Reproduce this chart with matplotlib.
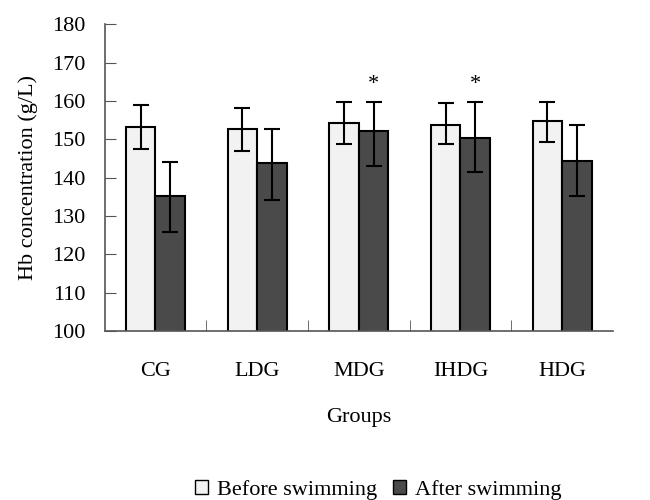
import matplotlib
matplotlib.use('Agg')
import matplotlib.pyplot as plt
import numpy as np

groups = ['CG', 'LDG', 'MDG', 'IHDG', 'HDG']
before_mean = [153.3, 152.6, 154.3, 153.7, 154.8]
before_err_low = [5.7, 5.6, 5.6, 5.0, 5.5]
before_err_high = [5.6, 5.7, 5.5, 5.7, 5.0]
after_mean = [135.3, 143.8, 152.2, 150.4, 144.3]
after_err_low = [9.4, 9.6, 9.1, 9.0, 9.0]
after_err_high = [8.9, 8.8, 7.6, 9.4, 9.4]
significant = [False, False, True, True, False]

plt.rcParams['font.family'] = ['Liberation Serif', 'DejaVu Serif']
plt.rcParams['font.size'] = 16

fig = plt.figure(figsize=(6.5, 5), dpi=100)
ax = fig.add_axes([0.161, 0.338, 0.782, 0.613])

x = np.arange(len(groups))
width = 0.29
err_kw = dict(ecolor='black', elinewidth=1.5, capsize=5.5, capthick=1.5)
ax.bar(x - width / 2, before_mean, width, yerr=[before_err_low, before_err_high],
       color='#f2f2f2', edgecolor='black', linewidth=1.5, label='Before swimming',
       error_kw=err_kw)
ax.bar(x + width / 2, after_mean, width, yerr=[after_err_low, after_err_high],
       color='#4a4a4a', edgecolor='black', linewidth=1.5, label='After swimming',
       error_kw=err_kw)

for i, sig in enumerate(significant):
    if sig:
        ax.text(x[i] + width / 2, after_mean[i] + after_err_high[i] + 2, '*',
                ha='center', va='bottom', fontsize=16)

ax.set_xlim(-0.5, len(groups) - 0.5)
ax.set_ylim(100, 180)
ax.set_yticks(np.arange(100, 181, 10))
ax.set_xticks(x)
ax.set_xticklabels(groups)
ax.set_xticks(np.arange(0.5, len(groups) - 0.5, 1), minor=True)
ax.tick_params(axis='x', which='major', length=0, pad=22)
ax.tick_params(axis='x', which='minor', direction='in', length=8, color='#555555')
ax.tick_params(axis='y', direction='in', length=8, color='#555555', pad=14)

for s in ['top', 'right']:
    ax.spines[s].set_visible(False)
for s in ['left', 'bottom']:
    ax.spines[s].set_color('#555555')
    ax.spines[s].set_linewidth(1.2)

ax.set_xlabel('Groups', labelpad=20)
ax.set_ylabel('Hb concentration (g/L)', labelpad=10)

leg = fig.legend(loc='center', bbox_to_anchor=(0.582, 0.02), ncol=2, frameon=False,
                 handlelength=0.6, handleheight=0.6, handletextpad=0.4,
                 columnspacing=0.7)
for h in leg.legend_handles:
    h.set_linewidth(1.0)

fig.savefig('out.png', dpi=100)
